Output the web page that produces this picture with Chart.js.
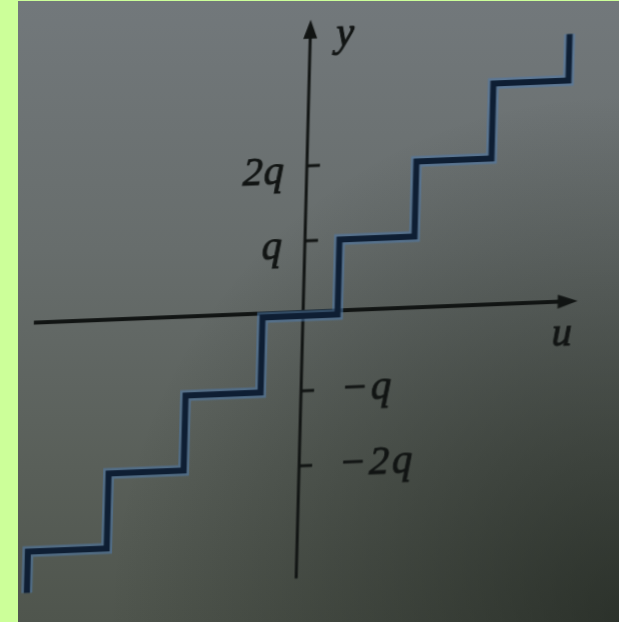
<!DOCTYPE html>
<html>
<head>
<meta charset="utf-8">
<script src="https://cdn.jsdelivr.net/npm/chart.js@4.4.1/dist/chart.umd.min.js"></script>
<style>
  html, body { margin: 0; padding: 0; background: #ccff99; }
  #frame {
    position: absolute; left: 18px; top: 1px; width: 601px; height: 621px; overflow: hidden;
    background:
      radial-gradient(ellipse at 100% 100%, rgba(20, 26, 20, 0.6), rgba(20, 26, 20, 0) 60%),
      linear-gradient(180deg, #72787b 0%, #676d6c 40%, #595f59 75%, #4f554d 100%);
  }
  #quantizer {
    position: absolute; left: -18px; top: -1px;
    transform-origin: 300px 316px;
    transform: matrix(1, -0.04, -0.026, 1, 0, 0);
  }
</style>
</head>
<body>
<div id="frame"><canvas id="quantizer" width="619" height="622"></canvas></div>
<script>
// staircase corners, input u and output y in units of q
const stepU = [-3.55, -3.55, -2.5, -2.5, -1.5, -1.5, -0.5, -0.5, 0.5, 0.5, 1.5, 1.5, 2.5, 2.5, 3.5, 3.5];
const stepY = [-3.55, -3, -3, -2, -2, -1, -1, 0, 0, 1, 1, 2, 2, 3, 3, 3.62];

// axis extents (u axis, y axis) in units of q
const uAxisRange = [-3.55, 3.7];
const yAxisRange = [-3.5, 3.95];

// ticks on the y axis
const tickValues = [2, 1, -1, -2];
const tickLabels = ["2q", "q", "\u2212q", "\u22122q"];

const labelFont = 'italic 40px "Liberation Serif", "DejaVu Serif", serif';

function drawLabel(ctx, text, px, py) {
  ctx.lineWidth = 1;
  ctx.strokeText(text, px, py);
  ctx.fillText(text, px, py);
}

const axesPlugin = {
  id: "axes",
  beforeDatasetsDraw(chart) {
    const { ctx, scales: { x, y } } = chart;
    const x0 = x.getPixelForValue(0);
    const y0 = y.getPixelForValue(0) - 4;
    const uL = x.getPixelForValue(uAxisRange[0]);
    const uR = x.getPixelForValue(uAxisRange[1]);
    const yB = y.getPixelForValue(yAxisRange[0]);
    const yT = y.getPixelForValue(yAxisRange[1]);

    ctx.save();
    ctx.strokeStyle = "#111413";
    ctx.fillStyle = "#111413";

    // u axis with arrow
    ctx.lineWidth = 4;
    ctx.beginPath();
    ctx.moveTo(uL, y0);
    ctx.lineTo(uR - 12, y0);
    ctx.stroke();
    ctx.beginPath();
    ctx.moveTo(uR, y0);
    ctx.lineTo(uR - 20, y0 - 7);
    ctx.lineTo(uR - 20, y0 + 7);
    ctx.closePath();
    ctx.fill();

    // y axis with arrow
    ctx.lineWidth = 3;
    ctx.beginPath();
    ctx.moveTo(x0 + 3, yB);
    ctx.lineTo(x0 + 3, yT + 12);
    ctx.stroke();
    ctx.beginPath();
    ctx.moveTo(x0 + 3, yT);
    ctx.lineTo(x0 - 4, yT + 19);
    ctx.lineTo(x0 + 10, yT + 19);
    ctx.closePath();
    ctx.fill();

    // tick marks and labels
    ctx.font = labelFont;
    ctx.textBaseline = "alphabetic";
    tickValues.forEach((v, i) => {
      const py = y.getPixelForValue(v);
      ctx.lineWidth = 3;
      ctx.beginPath();
      ctx.moveTo(x0 + 3, py);
      ctx.lineTo(x0 + 16, py);
      ctx.stroke();
      if (v > 0) {
        ctx.letterSpacing = "1px";
        ctx.textAlign = "right";
        drawLabel(ctx, tickLabels[i], x0 - 19, py + 17);
      } else {
        ctx.letterSpacing = "3px";
        ctx.textAlign = "left";
        drawLabel(ctx, tickLabels[i], x0 + 43, py + 11);
      }
    });

    // axis names
    ctx.letterSpacing = "0px";
    ctx.textAlign = "left";
    drawLabel(ctx, "y", x0 + 29, yT + 27);
    drawLabel(ctx, "u", uR - 25, y0 + 44);
    ctx.restore();
  }
};

const points = stepU.map((u, i) => ({ x: u, y: stepY[i] }));

new Chart(document.getElementById("quantizer"), {
  type: "line",
  data: {
    datasets: [
      {
        // dark core of the staircase
        data: points,
        borderColor: "#0e1e33",
        borderWidth: 6,
        pointRadius: 0,
        fill: false,
        tension: 0,
        borderJoinStyle: "miter",
        order: 0
      },
      {
        // blue edge around it
        data: points,
        borderColor: "rgba(78, 122, 172, 0.55)",
        borderWidth: 11,
        pointRadius: 0,
        fill: false,
        tension: 0,
        borderJoinStyle: "miter",
        order: 1
      }
    ]
  },
  options: {
    responsive: false,
    animation: false,
    devicePixelRatio: 1,
    layout: { padding: 0 },
    plugins: { legend: { display: false }, tooltip: { enabled: false } },
    scales: {
      x: { type: "linear", display: false, min: -4.0, max: 4.253 },
      y: { type: "linear", display: false, min: -4.08, max: 4.213 }
    }
  },
  plugins: [axesPlugin]
});
</script>
</body>
</html>
